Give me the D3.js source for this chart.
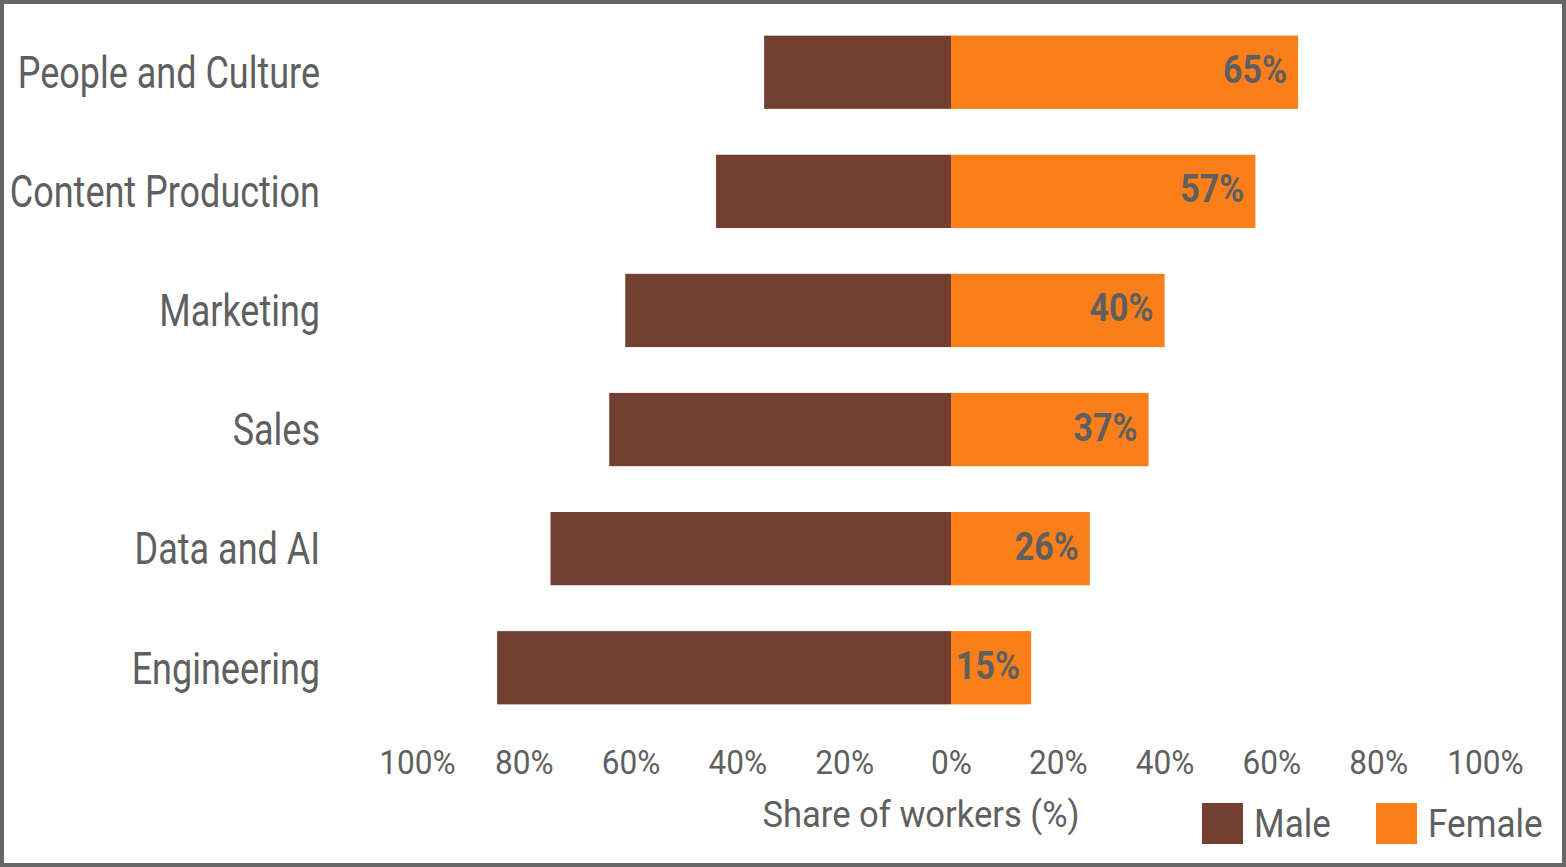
<!DOCTYPE html>
<html>
<head>
<meta charset="utf-8">
<script src="https://cdn.jsdelivr.net/npm/d3@7"></script>
<style>
	html, body { margin: 0; padding: 0; background: #fff; }
	svg text { font-family: Roboto, "Noto Sans", sans-serif; fill: #5f5f5f; }
</style>
</head>
<body>
<div id="chart"></div>
<script>
//////////////////////////// data /////////////////////////////////////////

const categories = ["People and Culture", "Content Production", "Marketing", "Sales", "Data and AI", "Engineering"];
const maleShare = [35, 44, 61, 64, 75, 85];
const femaleShare = [65, 57, 40, 37, 26, 15];
const tickValues = [-100, -80, -60, -40, -20, 0, 20, 40, 60, 80, 100];
const seriesNames = ["Male", "Female"];
const seriesColors = ["#723f31", "#fa7f1a"];

//////////////////////////// sizes ////////////////////////////////////////

const width = 1566;
const height = 867;

const svg = d3.select("#chart").append("svg")
	.attr("width", width)
	.attr("height", height);

// frame
svg.append("rect")
	.attr("x", 2).attr("y", 2)
	.attr("width", width - 4).attr("height", height - 4)
	.attr("fill", "#fff")
	.attr("stroke", "#666")
	.attr("stroke-width", 4);

//////////////////////////// scales ///////////////////////////////////////

const xScale = d3.scaleLinear().domain([-100, 100]).range([417, 1485]);
const yScale = d3.scaleBand().domain(categories).range([13, 727]).paddingInner(0.385).paddingOuter(0.19);
const cScale = d3.scaleOrdinal().domain(seriesNames).range(seriesColors);

// text helper: anchor point plus horizontal squeeze (original font is narrower)
const squeezed = (sel, x, y, sq) => sel.attr("transform", `translate(${x},${y}) scale(${sq},1)`);

//////////////////////////// bars /////////////////////////////////////////

const rows = categories.map((c, i) => ({ cat: c, male: maleShare[i], female: femaleShare[i] }));

const bars = svg.append("g");

bars.selectAll(".male")
	.data(rows)
	.join("rect")
	.attr("class", "male")
	.attr("x", (d) => xScale(-d.male))
	.attr("y", (d) => yScale(d.cat))
	.attr("width", (d) => xScale(0) - xScale(-d.male))
	.attr("height", yScale.bandwidth())
	.attr("fill", cScale("Male"));

bars.selectAll(".female")
	.data(rows)
	.join("rect")
	.attr("class", "female")
	.attr("x", xScale(0))
	.attr("y", (d) => yScale(d.cat))
	.attr("width", (d) => xScale(d.female) - xScale(0))
	.attr("height", yScale.bandwidth())
	.attr("fill", cScale("Female"));

// value labels inside the female bars
bars.selectAll(".val")
	.data(rows)
	.join("text")
	.attr("class", "val")
	.each(function (d) {
		squeezed(d3.select(this), xScale(d.female) - 11, yScale(d.cat) + yScale.bandwidth() / 2 + 11, 0.87);
	})
	.attr("text-anchor", "end")
	.style("font-size", "39px")
	.style("font-weight", "bold")
	.text((d) => d.female + "%");

//////////////////////////// axes /////////////////////////////////////////

const xAxis = svg.append("g")
	.attr("transform", "translate(0,762)")
	.call(d3.axisBottom(xScale).tickValues(tickValues).tickSize(0).tickFormat((d) => Math.abs(d) + "%"));
xAxis.select(".domain").remove();
xAxis.selectAll("text")
	.attr("y", 0)
	.attr("dy", "0.35em")
	.style("font-size", "34px")
	.attr("transform", "scale(0.93,1)")
	.attr("fill", null);

const yAxis = svg.append("g")
	.attr("transform", "translate(320,0)")
	.call(d3.axisLeft(yScale).tickSize(0));
yAxis.select(".domain").remove();
yAxis.selectAll("text")
	.attr("x", 0)
	.attr("dy", "0.35em")
	.style("font-size", "45px")
	.attr("transform", "scale(0.8,1)")
	.attr("fill", null);

svg.append("text")
	.call(squeezed, 921, 827, 0.96)
	.attr("text-anchor", "middle")
	.style("font-size", "36px")
	.text("Share of workers (%)");

//////////////////////////// legend ///////////////////////////////////////

const legend = svg.append("g").attr("transform", "translate(1202,803)");
const legendItems = legend.selectAll("g")
	.data(seriesNames)
	.join("g")
	.attr("transform", (d, i) => `translate(${i * 174},0)`);

legendItems.append("rect")
	.attr("width", 41)
	.attr("height", 41)
	.attr("fill", (d) => cScale(d));

legendItems.append("text")
	.call(squeezed, 52, 34, 0.9)
	.style("font-size", "39px")
	.text((d) => d);
</script>
</body>
</html>
